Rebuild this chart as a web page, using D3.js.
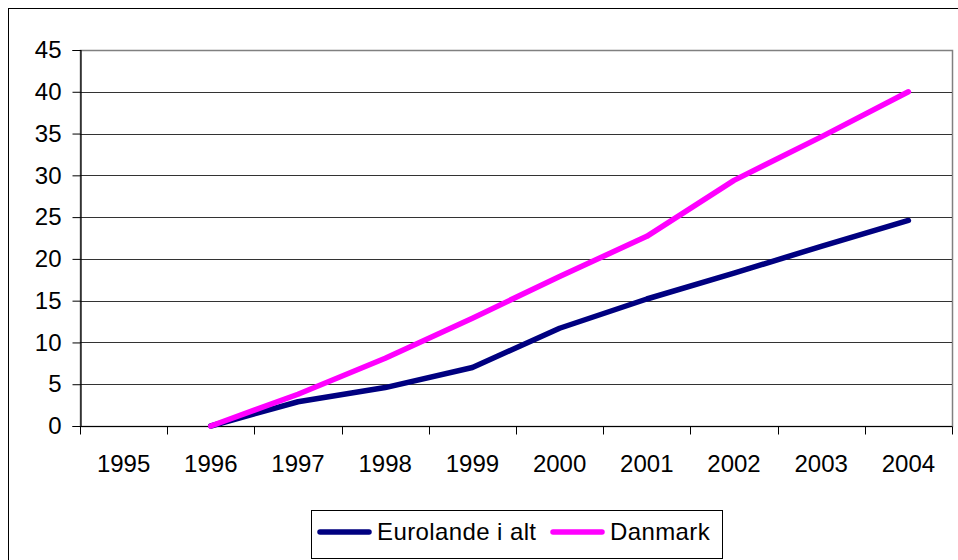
<!DOCTYPE html>
<html>
<head>
<meta charset="utf-8">
<script src="https://cdn.jsdelivr.net/npm/d3@7"></script>
<style>
  body { margin: 0; background: #fff; }
  text { font-family: "Liberation Sans", Arial, sans-serif; }
</style>
</head>
<body>
<svg></svg>
<script>
var years = ["1995","1996","1997","1998","1999","2000","2001","2002","2003","2004"];
var euro = [null, 0, 2.9, 4.6, 7.0, 11.7, 15.2, 18.3, 21.5, 24.6];
var danmark = [null, 0, 3.8, 8.1, 12.9, 17.9, 22.7, 29.4, 34.6, 40.0];
var yTicks = [0, 5, 10, 15, 20, 25, 30, 35, 40, 45];
var seriesNames = ["Eurolande i alt", "Danmark"];
var seriesColors = ["#000080", "#ff00ff"];

var width = 958;
var height = 560;
var svg = d3.select("svg")
            .attr("width", width)
            .attr("height", height);

// outer chart frame
svg.append("rect")
   .attr("x", 8.5).attr("y", 8.5)
   .attr("width", 970).attr("height", 600)
   .attr("fill", "none")
   .attr("stroke", "#000")
   .attr("stroke-width", 1);

var pLeft = 80, pRight = 952, pTop = 50, pBottom = 426;

var x = d3.scaleBand()
          .domain(years)
          .range([pLeft, pRight])
          .padding(0);
var y = d3.scaleLinear()
          .domain([0, 45])
          .range([pBottom, pTop]);

// plot area border (grey)
svg.append("rect")
   .attr("x", pLeft + 0.5).attr("y", pTop + 0.5)
   .attr("width", pRight - pLeft).attr("height", pBottom - pTop)
   .attr("fill", "none")
   .attr("stroke", "#808080")
   .attr("stroke-width", 1.5);

// gridlines
svg.selectAll("line.grid")
   .data(yTicks.slice(1, -1))
   .enter()
   .append("line")
   .attr("class", "grid")
   .attr("x1", pLeft).attr("x2", pRight)
   .attr("y1", function(d) { return Math.round(y(d)) + 0.5; })
   .attr("y2", function(d) { return Math.round(y(d)) + 0.5; })
   .attr("stroke", "#333")
   .attr("stroke-width", 1);

// y axis
var yAxis = d3.axisLeft(y)
              .tickValues(yTicks)
              .tickSize(8)
              .tickPadding(11);
var gy = svg.append("g")
            .attr("transform", "translate(" + (pLeft + 0.5) + ",0)")
            .call(yAxis);
gy.select(".domain").attr("stroke", "#000").attr("stroke-width", 1.2);
gy.selectAll(".tick line").attr("stroke", "#000");
gy.selectAll("text")
  .attr("font-size", 24)
  .attr("font-family", "Liberation Sans, Arial, sans-serif")
  .attr("fill", "#000");

// x axis: labels centered, ticks on category boundaries
var gx = svg.append("g")
            .attr("transform", "translate(0," + (pBottom + 0.5) + ")");
gx.append("line")
  .attr("x1", pLeft).attr("x2", pRight)
  .attr("y1", 0).attr("y2", 0)
  .attr("stroke", "#000")
  .attr("stroke-width", 1.2);
var bounds = years.map(function(d) { return x(d); }).concat([x(years[years.length - 1]) + x.bandwidth()]);
gx.selectAll("line.tick")
  .data(bounds)
  .enter()
  .append("line")
  .attr("class", "tick")
  .attr("x1", function(d) { return Math.round(d) + 0.5; })
  .attr("x2", function(d) { return Math.round(d) + 0.5; })
  .attr("y1", 0).attr("y2", 8)
  .attr("stroke", "#000");
gx.selectAll("text")
  .data(years)
  .enter()
  .append("text")
  .text(function(d) { return d; })
  .attr("x", function(d) { return x(d) + x.bandwidth() / 2; })
  .attr("y", 45)
  .attr("text-anchor", "middle")
  .attr("font-size", 24)
  .attr("fill", "#000");

// lines
var allSeries = [euro, danmark];
var line = d3.line()
             .defined(function(d) { return d != null; })
             .x(function(d, i) { return x(years[i]) + x.bandwidth() / 2; })
             .y(function(d) { return y(d); });

svg.selectAll("path.series")
   .data(allSeries)
   .enter()
   .append("path")
   .attr("class", "series")
   .attr("d", line)
   .attr("fill", "none")
   .attr("stroke", function(d, i) { return seriesColors[i]; })
   .attr("stroke-width", 5.5)
   .attr("stroke-linejoin", "round")
   .attr("stroke-linecap", "round");

// legend
var lg = svg.append("g");
lg.append("rect")
  .attr("x", 311.5).attr("y", 510.5)
  .attr("width", 411).attr("height", 48)
  .attr("fill", "#fff")
  .attr("stroke", "#000")
  .attr("stroke-width", 1);
var legendX = [320, 553];
lg.selectAll("line.key")
  .data(seriesNames)
  .enter()
  .append("line")
  .attr("class", "key")
  .attr("x1", function(d, i) { return legendX[i]; })
  .attr("x2", function(d, i) { return legendX[i] + 49; })
  .attr("y1", 532).attr("y2", 532)
  .attr("stroke", function(d, i) { return seriesColors[i]; })
  .attr("stroke-width", 5.5)
  .attr("stroke-linecap", "round");
lg.selectAll("text.key")
  .data(seriesNames)
  .enter()
  .append("text")
  .attr("class", "key")
  .text(function(d) { return d; })
  .attr("x", function(d, i) { return legendX[i] + 57; })
  .attr("y", 540)
  .attr("font-size", 24)
  .attr("letter-spacing", 0.4)
  .attr("fill", "#000");
</script>
</body>
</html>
